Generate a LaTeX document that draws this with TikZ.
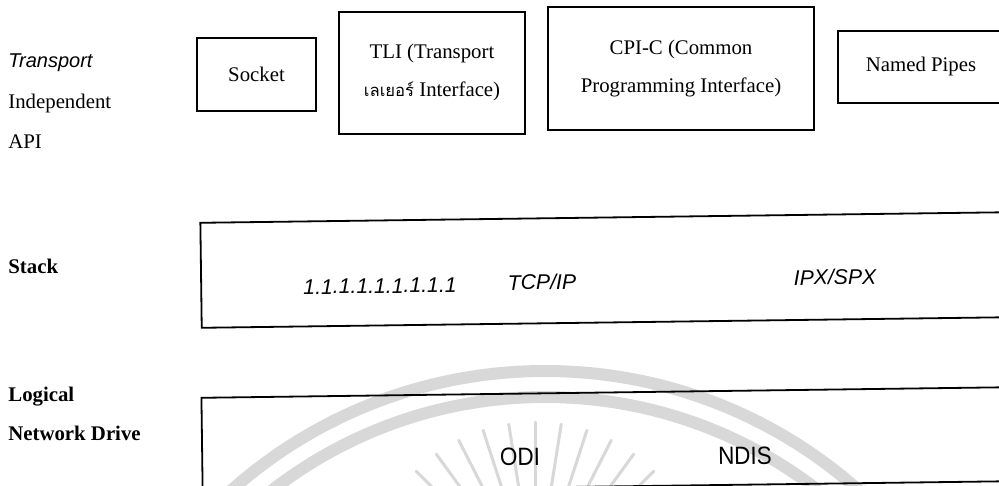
\documentclass[tikz,border=0pt]{standalone}
\usepackage{fontspec}
\setmainfont{Liberation Serif}
\setsansfont{Liberation Sans}
\newfontfamily\thaifont[Script=Thai,Scale=0.8]{Loma}
\usetikzlibrary{calc}
\definecolor{wmgray}{RGB}{216,216,216}
\tikzset{
  boxline/.style={draw=black, line width=0.9pt},
  apibox/.style={boxline, inner sep=0pt, align=center,
    font=\fontsize{10.4}{19}\selectfont},
  sidelbl/.style={anchor=west, inner sep=0pt,
    font=\fontsize{10.4}{12}\selectfont},
  sidebold/.style={anchor=west, inner sep=0pt,
    font=\fontsize{10.4}{12}\selectfont\bfseries},
  sideit/.style={anchor=west, inner sep=0pt,
    font=\sffamily\itshape\fontsize{10}{12}\selectfont},
  protoit/.style={inner sep=0pt, rotate=0.75,
    font=\sffamily\itshape\fontsize{10.6}{12}\selectfont},
  driver/.style={inner sep=0pt, rotate=0.75, xscale=0.9,
    font=\sffamily\fontsize{12.5}{14}\selectfont},
  layerbox/.style={boxline, inner sep=0pt, rotate=0.75},
  wmline/.style={draw=wmgray, line width=6pt},
  wmray/.style={draw=wmgray, line width=1.5pt, line cap=round},
}
\begin{document}
\begin{tikzpicture}[x=0.5pt, y=-0.5pt]
  \useasboundingbox[fill=white] (0,0) rectangle (999,486);
  \clip (0,0) rectangle (999,486);

  % faint seal in the background
  \draw[wmline] (545,843) circle[radius=472];
  \draw[wmline] (545,843) circle[radius=446];
  \foreach \a in {216,225,...,324}
    \draw[wmray] ($(535,590)+(\a:100)$) -- ($(535,590)+(\a:168)$);

  % row labels
  \node[sideit]   (lTransport) at (8,63)  {Transport};
  \node[sidelbl]  (lIndep)     at (8,103) {Independent};
  \node[sidelbl]  (lApi)       at (8,142) {API};
  \node[sidebold] (lStack)     at (8,266) {Stack};
  \node[sidebold] (lLogical)   at (8,397) {Logical};
  \node[sidebold] (lNetDrive)  at (8,433) {Network Drive};

  % transport independent APIs
  \node[apibox, minimum width=59.5pt, minimum height=36.5pt] (sock) at (256.5,74.5) {Socket};
  \node[apibox, minimum width=93pt, minimum height=61pt] (tli) at (432,73)
    {TLI (Transport\\{\thaifont เลเยอร์} Interface)};
  \node[apibox, minimum width=133pt, minimum height=61.5pt] (cpic) at (681,68.5)
    {CPI-C (Common\\Programming Interface)};
  \node[apibox, minimum width=83pt, minimum height=36pt] (pipes) at (921,67) {Named Pipes};

  % protocol stacks
  \node[layerbox, minimum width=404.5pt, minimum height=52.5pt] (stackbox) at (605.5,270) {};
  \node[protoit] (ones) at (380,286) {1.1.1.1.1.1.1.1.1};
  \node[protoit] (tcpip) at (542,282) {TCP/IP};
  \node[protoit] (ipxspx) at (835,277) {IPX/SPX};

  % network drivers
  \node[layerbox, minimum width=404pt, minimum height=47pt] (drvbox) at (606,439.5) {};
  \node[driver] (odi) at (520,457) {ODI};
  \node[driver] (ndis) at (745,456) {NDIS};
\end{tikzpicture}
\end{document}
